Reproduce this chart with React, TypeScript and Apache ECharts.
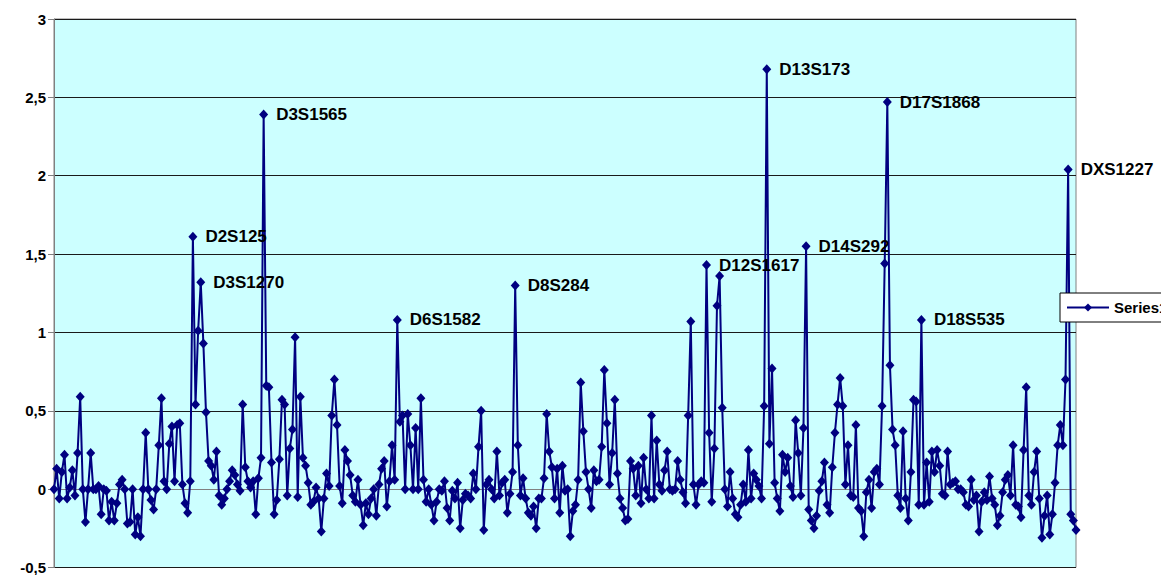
import React, { useEffect, useRef } from "react";
import * as echarts from "echarts";

// Series values (log score per marker), in marker order
const chunkA = [0, 0.13, -0.06, 0.11, 0.22, -0.06, 0.01, 0.12, -0.04, 0.23, 0.59, 0, -0.21, 0, 0.23, 0, 0, 0.02, -0.16, 0, -0.01, -0.2, -0.08, -0.2, -0.09, 0.03, 0.06, 0, -0.22, -0.21, 0, -0.29, -0.18, -0.3, 0, 0.36, 0, -0.07, -0.13, 0, 0.28, 0.58, 0.05, 0, 0.29, 0.4, 0.05, 0.41, 0.42, 0.03, -0.09, -0.15, 0.05, 1.61];
const chunkB = [0.54, 1.01, 1.32, 0.93, 0.49, 0.18, 0.15, 0.06, 0.24, -0.04, -0.1, -0.06, 0, 0.05, 0.12, 0.09, 0.03, -0.01, 0.54, 0.14, 0.05, 0.01, 0.05, -0.16, 0.07, 0.2, 2.39];
const chunkC = [0.66, 0.65, 0.17, -0.16, -0.07, 0.19, 0.57, 0.54, -0.04, 0.26, 0.38, 0.97, -0.05, 0.59, 0.2, 0.15, 0.04, -0.1, -0.08, 0.01, -0.06, -0.27, -0.06, 0.1, 0.02, 0.47, 0.7, 0.41, 0.02, -0.09, 0.25, 0.18, 0.09, -0.04, -0.08, 0.06, -0.1, -0.23, -0.09, -0.16, -0.06, 0, -0.17, 0.03, 0.13, 0.18, -0.11, 0.05, 0.28, 0.06, 1.08];
const chunkD = [0.43, 0.47, 0, 0.48, 0.28, 0, 0.39, 0, 0.58, 0.06, -0.08, 0, -0.1, -0.2, -0.08, 0, -0.01, 0.05, -0.12, -0.2, -0.01, -0.06, 0.04, -0.25, -0.07, -0.03, -0.04, -0.06, 0.1, 0, 0.27, 0.5, -0.26, 0.03, 0.06, 0, -0.06, 0.24, -0.04, 0.04, 0.06, -0.15, -0.03, 0.11, 1.3];
const chunkE = [0.28, -0.04, 0.07, -0.06, -0.15, -0.17, -0.11, -0.25, -0.06, -0.06, 0.07, 0.48, 0.24, 0.14, -0.06, 0.13, -0.15, 0.15, -0.01, 0, -0.3, -0.14, -0.1, 0.06, 0.68, 0.37, 0.11, 0, -0.12, 0.12, 0.05, 0.06, 0.27, 0.76, 0.42, 0.03, 0.23, 0.57, 0.1, -0.06, -0.12, -0.2, -0.19, 0.18, 0.13, -0.04, 0.15, -0.09, 0.2, 0, -0.06, 0.47, -0.06, 0.31, 0.03, -0.01, 0.12, 0.24, 0, -0.01, 0, 0.18, 0.06, -0.02, -0.09, 0.47, 1.07, 0.03, -0.1, 0.03, 0.05, 0.04, 1.43];
const chunkF = [0.36, -0.08, 0.26, 1.17, 1.36, 0.52, 0, -0.11, 0.11, -0.06, -0.16, -0.18, -0.1, 0.03, -0.08, 0.25, -0.06, 0.1, 0.06, 0.02, -0.06, 0.53, 2.68];
const chunkG = [0.29, 0.77, 0.04, -0.06, -0.14, 0.22, 0.11, 0.2, 0.02, -0.05, 0.44, 0.23, -0.04, 0.39, 1.55];
const chunkH = [-0.13, -0.2, -0.25, -0.17, -0.01, 0.05, 0.17, -0.1, -0.15, 0.14, 0.36, 0.54, 0.71, 0.53, 0.03, 0.28, -0.04, -0.05, 0.41, -0.12, -0.14, -0.3, -0.02, 0.06, -0.12, 0.11, 0.13, 0.03, 0.53, 1.44, 2.47];
const chunkI = [0.79, 0.38, 0.28, -0.04, -0.12, 0.37, -0.06, -0.2, 0.11, 0.57, 0.56, -0.1, 1.08];
const chunkJ = [-0.1, 0.17, -0.08, 0.24, 0.11, 0.25, 0.15, -0.03, -0.04, 0.24, 0.03, 0.04, 0.05, 0, 0, -0.02, -0.1, -0.11, 0.06, -0.07, -0.04, -0.27, -0.08, -0.02, -0.07, 0.08, -0.06, -0.1, -0.23, -0.17, -0.02, 0.06, 0.09, -0.04, 0.28, -0.1, -0.11, -0.18, 0.25, 0.65, -0.04, -0.1, 0.11, 0.24, -0.06, -0.31, -0.17, -0.04, -0.29, -0.16, 0.04, 0.28, 0.41, 0.28, 0.7, 2.04, -0.16, -0.2, -0.26];

const seriesValues = [...chunkA, ...chunkB, ...chunkC, ...chunkD, ...chunkE, ...chunkF, ...chunkG, ...chunkH, ...chunkI, ...chunkJ];

// Categories: marker positions along the genome
const categories = seriesValues.map((_, i) => String(i + 1));

// Labeled peaks
const peakNames = ["D2S125", "D3S1270", "D3S1565", "D6S1582", "D8S284", "D12S1617", "D13S173", "D14S292", "D17S1868", "D18S535", "DXS1227"];
const peakIndex = [53, 56, 80, 131, 176, 249, 272, 287, 318, 331, 387];

// Y axis
const yMin = -0.5;
const yMax = 3;
const yStep = 0.5;

const seriesName = "Series1";
const FONT = "Liberation Sans, Arial, sans-serif";

export default function App() {
  const ref = useRef<HTMLDivElement>(null);

  useEffect(() => {
    if (!ref.current) return;
    const chart = echarts.init(ref.current, undefined, { renderer: "svg" });

    const data = seriesValues.map((v, i) => {
      const k = peakIndex.indexOf(i);
      if (k >= 0) {
        return {
          value: v,
          label: {
            show: true,
            position: "right",
            distance: 8,
            formatter: peakNames[k],
            fontFamily: FONT,
            fontWeight: "bold",
            fontSize: 17,
            color: "#000",
          },
        };
      }
      return v;
    });

    chart.setOption({
      animation: false,
      backgroundColor: "#ffffff",
      grid: {
        left: 54,
        top: 19,
        right: 85,
        bottom: 6,
        show: true,
        backgroundColor: "#CCFFFF",
        borderColor: "#808080",
        borderWidth: 1,
        containLabel: false,
      },
      legend: {
        show: true,
        data: [seriesName],
        left: 1060,
        top: 293,
        orient: "vertical",
        backgroundColor: "#ffffff",
        borderColor: "#000000",
        borderWidth: 1,
        borderRadius: 0,
        padding: [7, 6, 7, 6],
        itemWidth: 42,
        itemHeight: 10,
        itemGap: 0,
        textStyle: {
          fontFamily: FONT,
          fontWeight: "bold",
          fontSize: 15,
          color: "#000",
        },
      },
      xAxis: {
        type: "category",
        data: categories,
        boundaryGap: false,
        axisLine: { show: true, lineStyle: { color: "#808080", width: 1 } },
        axisTick: { show: false },
        axisLabel: { show: false },
        splitLine: { show: false },
      },
      yAxis: {
        type: "value",
        min: yMin,
        max: yMax,
        interval: yStep,
        axisLine: { show: true, lineStyle: { color: "#808080", width: 1 } },
        axisTick: { show: true, length: 6, lineStyle: { color: "#808080" } },
        axisLabel: {
          margin: 8,
          fontFamily: FONT,
          fontWeight: "bold",
          fontSize: 15,
          color: "#000",
          formatter: (v: number) => String(v).replace(".", ","),
        },
        splitLine: { show: true, lineStyle: { color: "#1a1a1a", width: 1 } },
      },
      series: [
        {
          name: seriesName,
          type: "line",
          data,
          showAllSymbol: true,
          symbol: "diamond",
          symbolSize: [9, 10],
          lineStyle: { color: "#000080", width: 2 },
          itemStyle: { color: "#000080" },
          labelLayout: { hideOverlap: false },
          z: 3,
        },
      ],
    });

    return () => chart.dispose();
  }, []);

  return (
    <div
      ref={ref}
      style={{ position: "fixed", left: 0, top: 0, width: 1161, height: 575 }}
    />
  );
}
